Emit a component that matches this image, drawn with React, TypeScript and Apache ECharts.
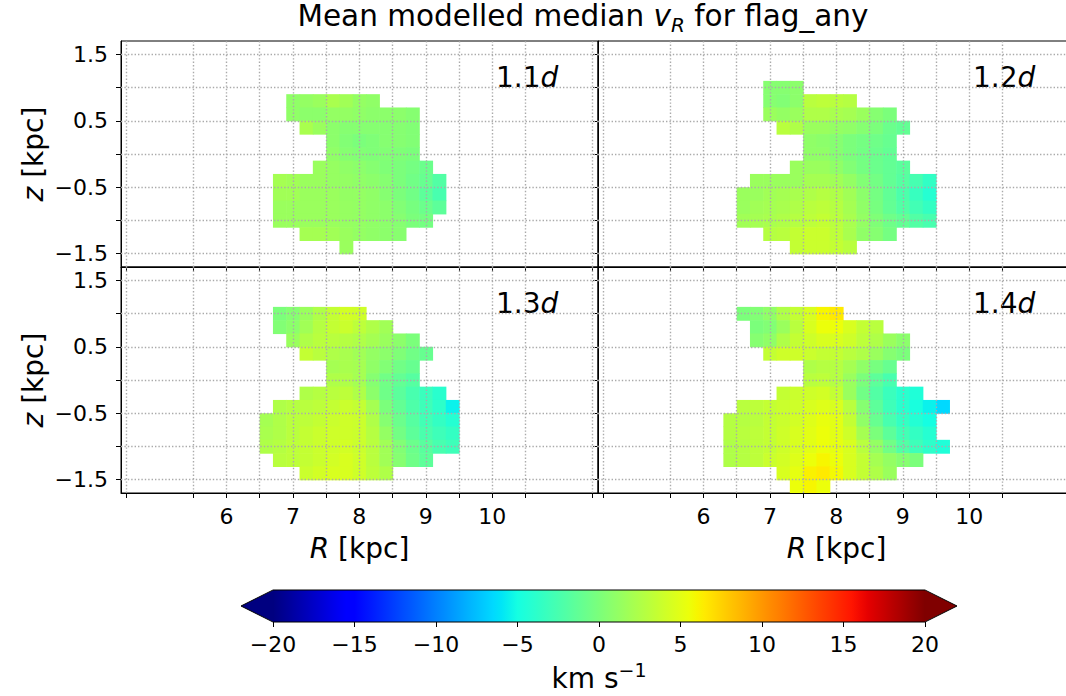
import React, { useEffect, useRef } from 'react';
import * as echarts from 'echarts';

const FONT = 'DejaVu Sans';

// Axis ticks / labels
const xTicks = [4.5, 5.5, 6, 6.5, 7, 7.5, 8, 8.5, 9, 9.5, 10, 10.5, 11.5];
const xLabels = [6, 7, 8, 9, 10];
const yTicks = [-1.5, -1, -0.5, 0, 0.5, 1, 1.5];
const yLabels = [-1.5, -0.5, 0.5, 1.5];
const cbMin = -20;
const cbMax = 20;
const cbStep = 5;

const panelNames = ['1.1', '1.2', '1.3', '1.4'];

// Each row: [z centre, first R centre, values of consecutive 0.2 kpc bins]
type Row = [number, number, number[]];

const rows11: Row[] = [
  [0.8, 7.0, [1.0, 1.2, 1.5, 2.2, 1.8, 1.2, 1.0]],
  [0.6, 7.0, [1.0, 0.8, 0.8, 1.2, 1.2, 1.0, 0.8, 0.8, 0.8, 0.5]],
  [0.4, 7.2, [2.2, 1.5, 0.8, 0.5, 0.5, 0.5, 0.5, 0.5, 0.3]],
  [0.2, 7.6, [0.8, 0.3, 0.0, 0.2, 0.5, 0.5, 0.3]],
  [0.0, 7.6, [1.0, 0.5, 0.3, 0.2, 0.3, 0.2, 0.0]],
  [-0.2, 7.4, [1.5, 1.3, 1.0, 0.8, 0.5, 0.2, 0.0, -0.3, -0.8]],
  [-0.4, 6.8, [2.0, 1.8, 1.5, 1.5, 1.3, 1.2, 1.0, 0.8, 0.5, 0.0, -0.5, -1.0, -2.0]],
  [-0.6, 6.8, [1.8, 1.8, 1.5, 1.5, 1.5, 1.2, 1.2, 1.0, 0.5, 0.0, -0.5, -1.5, -2.5]],
  [-0.8, 6.8, [1.5, 1.5, 1.5, 1.5, 1.5, 1.3, 1.2, 1.0, 0.8, 0.3, -0.2, -0.8, -1.5]],
  [-1.0, 6.8, [1.5, 1.5, 1.5, 1.5, 1.5, 1.3, 1.2, 1.0, 0.8, 0.5, 0.0, -0.3]],
  [-1.2, 7.2, [2.0, 2.0, 1.8, 1.5, 1.2, 1.0, 0.8, 0.6]],
  [-1.4, 7.8, [1.5]],
];

const rows12: Row[] = [
  [1.0, 7.0, [0.5, 0.5, 0.8]],
  [0.8, 7.0, [0.5, 0.3, 0.8, 3.0, 3.2, 3.0, 2.8]],
  [0.6, 7.0, [1.5, 1.2, 1.5, 2.5, 2.5, 2.2, 2.0, 1.5, 0.5, 0.0]],
  [0.4, 7.2, [3.0, 2.5, 1.5, 1.5, 1.2, 1.0, 0.5, 0.0, -0.8, -1.2]],
  [0.2, 7.6, [1.0, 0.8, 0.5, 0.0, -0.3, -0.6, -1.0]],
  [0.0, 7.6, [1.0, 1.0, 0.5, 0.0, -0.4, -0.8, -1.2]],
  [-0.2, 7.4, [1.5, 1.5, 1.5, 1.0, 0.3, -0.3, -0.8, -1.2, -1.6]],
  [-0.4, 6.8, [1.5, 1.5, 1.5, 1.5, 2.0, 2.0, 1.8, 1.2, 0.3, -0.4, -1.2, -1.8, -2.6, -3.6]],
  [-0.6, 6.6, [1.5, 1.5, 1.8, 2.0, 2.2, 2.5, 2.8, 2.5, 1.8, 0.8, -0.3, -1.3, -2.3, -3.3, -4.2]],
  [-0.8, 6.6, [1.5, 1.8, 2.0, 2.2, 2.5, 3.0, 3.2, 2.8, 2.0, 1.0, -0.2, -1.2, -2.0, -2.8, -3.5]],
  [-1.0, 6.6, [1.8, 2.0, 2.2, 2.5, 2.8, 3.2, 3.5, 3.0, 2.2, 1.2, 0.2, -0.6, -1.2, -2.0, -2.5]],
  [-1.2, 7.0, [2.8, 3.0, 3.5, 3.8, 3.8, 3.2, 2.2, 1.0, 0.5, -0.3]],
  [-1.4, 7.4, [3.5, 3.8, 3.8, 3.5, 3.0]],
];

const rows13: Row[] = [
  [1.0, 6.8, [0.0, 0.5, 1.5, 2.5, 3.5, 4.2, 4.0]],
  [0.8, 6.8, [0.3, 0.8, 1.8, 2.8, 3.5, 3.8, 3.2, 2.5, 1.8]],
  [0.6, 7.0, [1.5, 2.5, 3.0, 3.0, 2.8, 2.5, 2.0, 1.5, 0.8, 0.0]],
  [0.4, 7.2, [3.5, 3.0, 2.5, 2.2, 1.8, 1.2, 0.8, 0.2, -0.5, -1.0]],
  [0.2, 7.6, [2.0, 2.2, 2.0, 1.0, 0.3, -0.5, -1.0]],
  [0.0, 7.6, [2.5, 2.5, 2.0, 0.5, -0.5, -1.2, -1.8]],
  [-0.2, 7.2, [2.5, 2.8, 3.0, 3.2, 2.5, 0.8, -0.6, -1.6, -2.5, -3.2, -4.0]],
  [-0.4, 6.8, [2.5, 2.8, 3.0, 3.2, 3.5, 3.8, 3.5, 2.0, 0.0, -1.2, -2.2, -3.0, -3.8, -5.5]],
  [-0.6, 6.6, [2.0, 2.5, 3.0, 3.2, 3.5, 3.8, 4.0, 3.8, 2.5, 0.5, -0.8, -1.8, -2.8, -3.5, -4.2]],
  [-0.8, 6.6, [2.2, 2.5, 3.0, 3.5, 3.8, 4.0, 4.0, 3.8, 2.8, 1.2, -0.4, -1.5, -2.4, -3.0, -3.5]],
  [-1.0, 6.6, [2.5, 2.8, 3.2, 3.5, 3.8, 4.0, 4.2, 3.8, 3.0, 1.8, 0.3, -0.8, -1.7, -2.5, -3.0]],
  [-1.2, 6.8, [3.0, 3.2, 3.5, 3.8, 4.2, 4.5, 4.0, 3.0, 1.8, 0.5, -0.6, -1.5]],
  [-1.4, 7.2, [3.8, 4.2, 4.5, 4.5, 4.0, 3.2, 2.5]],
];

const rows14: Row[] = [
  [1.0, 6.6, [0.0, 0.3, 1.0, 2.5, 3.5, 4.5, 6.0, 6.5]],
  [0.8, 6.8, [0.0, 0.3, 1.5, 3.0, 4.5, 5.5, 5.5, 4.5, 3.5, 3.0]],
  [0.6, 6.8, [0.5, 1.0, 2.5, 3.5, 4.0, 4.5, 4.5, 4.0, 3.2, 2.5, 1.5, 0.8]],
  [0.4, 7.0, [3.5, 4.0, 4.0, 3.8, 3.5, 3.5, 3.0, 2.5, 1.5, 0.5, 0.0]],
  [0.2, 7.6, [2.5, 2.8, 2.8, 2.0, 1.0, -0.2, -1.0]],
  [0.0, 7.6, [3.0, 3.2, 2.8, 1.5, 0.0, -1.5, -2.5]],
  [-0.2, 7.2, [3.5, 3.8, 4.0, 4.2, 3.5, 1.5, -0.5, -2.0, -3.2, -4.0, -4.5]],
  [-0.4, 6.6, [3.0, 3.2, 3.5, 3.8, 4.0, 4.5, 4.8, 4.5, 3.0, 0.5, -1.5, -3.0, -4.0, -4.8, -5.5, -6.5]],
  [-0.6, 6.4, [2.8, 2.8, 3.0, 3.5, 3.8, 4.2, 4.8, 5.3, 5.0, 3.5, 1.0, -1.0, -2.5, -3.5, -4.3, -5.0]],
  [-0.8, 6.4, [2.8, 3.0, 3.2, 3.5, 4.0, 4.5, 5.0, 5.5, 5.0, 4.0, 2.0, 0.0, -1.5, -2.8, -3.5, -4.2]],
  [-1.0, 6.4, [2.5, 2.8, 3.2, 3.5, 4.0, 4.5, 5.0, 5.5, 5.2, 4.5, 3.0, 1.2, -0.5, -2.0, -3.0, -3.8, -4.5]],
  [-1.2, 6.4, [2.5, 2.8, 3.2, 3.8, 4.2, 4.8, 5.5, 6.0, 5.5, 4.5, 3.5, 2.0, 1.2, 0.5, 0.0]],
  [-1.4, 7.2, [4.5, 5.2, 6.2, 6.5, 5.8, 4.5, 3.5, 2.5, 1.5]],
  [-1.6, 7.4, [5.5, 6.0, 5.5]],
];

const panels: Row[][] = [rows11, rows12, rows13, rows14];

// layout constants
const CELL = 0.2;
const X_MIN = 4.414;
const X_MAX = 11.59;
const Y_MIN = -1.7;
const Y_MAX = 1.7;
const GRID_W = 477;
const GRID_H = 226;
const CANVAS_W = 1100;
const gridPos = [
  { left: 121, top: 41 },
  { left: 598, top: 41 },
  { left: 121, top: 267 },
  { left: 598, top: 267 },
];
const CB = { left: 273, right: 925, top: 590, bottom: 622, tip: 32 };
const TICK_FS = 22;

// matplotlib "jet" colormap
const jetR: [number, number][] = [[0, 0], [0.35, 0], [0.66, 1], [0.89, 1], [1, 0.5]];
const jetG: [number, number][] = [[0, 0], [0.125, 0], [0.375, 1], [0.64, 1], [0.91, 0], [1, 0]];
const jetB: [number, number][] = [[0, 0.5], [0.11, 1], [0.34, 1], [0.65, 0], [1, 0]];
function seg(pts: [number, number][], t: number) {
  for (let i = 1; i < pts.length; i++) {
    if (t <= pts[i][0]) {
      const [x0, y0] = pts[i - 1];
      const [x1, y1] = pts[i];
      return y0 + ((y1 - y0) * (t - x0)) / (x1 - x0);
    }
  }
  return pts[pts.length - 1][1];
}
function jet(t: number) {
  const h = (v: number) => Math.round(v * 255).toString(16).padStart(2, '0');
  return '#' + h(seg(jetR, t)) + h(seg(jetG, t)) + h(seg(jetB, t));
}
const JET_N = 81;
const jetColors = Array.from({ length: JET_N }, (_, i) => jet(i / (JET_N - 1)));

const minus = (v: number | string) => String(v).replace('-', '\u2212');

function buildData(rows: Row[]) {
  const out: number[][] = [];
  rows.forEach(([z, r0, vals]) => {
    vals.forEach((v, i) => {
      out.push([Math.round((r0 + i * CELL) * 10) / 10, z, v]);
    });
  });
  return out;
}

function buildOption() {
  const grids: any[] = gridPos.map((g) => ({
    left: g.left,
    top: g.top,
    width: GRID_W,
    height: GRID_H,
    show: true,
    borderColor: '#000',
    borderWidth: 1,
    backgroundColor: 'transparent',
  }));
  grids.push({ left: CB.left, top: CB.top, width: CB.right - CB.left, height: CB.bottom - CB.top, show: false });

  const xAxes: any[] = gridPos.map((_, i) => ({
    gridIndex: i,
    type: 'value',
    min: X_MIN,
    max: X_MAX,
    axisLine: { show: true, onZero: false, lineStyle: { color: '#000', width: 1 } },
    axisTick: { show: true, customValues: xTicks, length: 5, inside: false, lineStyle: { color: '#000', width: 1 } },
    axisLabel: {
      show: i >= 2,
      customValues: xLabels,
      margin: 12,
      fontSize: TICK_FS,
      fontFamily: FONT,
      color: '#000',
      formatter: (v: number) => minus(v),
    },
    splitLine: { show: false },
  }));
  xAxes.push({
    gridIndex: 4,
    type: 'value',
    min: cbMin,
    max: cbMax,
    interval: cbStep,
    axisLine: { show: false },
    axisTick: { show: true, length: 5, inside: false, lineStyle: { color: '#000', width: 1 } },
    axisLabel: { margin: 11, fontSize: TICK_FS, fontFamily: FONT, color: '#000', formatter: (v: number) => minus(v) },
    splitLine: { show: false },
  });

  const yAxes: any[] = gridPos.map((_, i) => ({
    gridIndex: i,
    type: 'value',
    min: Y_MIN,
    max: Y_MAX,
    axisLine: { show: true, onZero: false, lineStyle: { color: '#000', width: 1 } },
    axisTick: { show: true, customValues: yTicks, length: 5, inside: false, lineStyle: { color: '#000', width: 1 } },
    axisLabel: {
      show: i % 2 === 0,
      customValues: yLabels,
      margin: 13,
      fontSize: TICK_FS,
      fontFamily: FONT,
      color: '#000',
      formatter: (v: number) => minus(v),
    },
    splitLine: { show: false },
  }));
  yAxes.push({ gridIndex: 4, type: 'value', min: 0, max: 1, show: false });

  const cellSeries = panels.map((rows, i) => ({
    type: 'custom',
    xAxisIndex: i,
    yAxisIndex: i,
    clip: true,
    z: 2,
    dimensions: ['R', 'z', 'v'],
    encode: { x: 0, y: 1 },
    data: buildData(rows),
    renderItem: (params: any, api: any) => {
      const R = api.value(0);
      const z = api.value(1);
      const p0 = api.coord([R - CELL / 2, z + CELL / 2]);
      const p1 = api.coord([R + CELL / 2, z - CELL / 2]);
      return {
        type: 'rect',
        shape: { x: p0[0], y: p0[1], width: p1[0] - p0[0] + 0.6, height: p1[1] - p0[1] + 0.6 },
        style: { fill: api.visual('color') },
      };
    },
  }));

  const gridLineSeries = panels.map((_, i) => ({
    type: 'line',
    xAxisIndex: i,
    yAxisIndex: i,
    z: 5,
    data: [],
    silent: true,
    markLine: {
      silent: true,
      symbol: ['none', 'none'],
      label: { show: false },
      lineStyle: { color: '#aaaaaa', width: 1.4, type: [1.4, 2.0] },
      data: [...xTicks.map((v) => ({ xAxis: v })), ...yTicks.map((v) => ({ yAxis: v }))],
    },
  }));

  const mkRich = (fs: number, sfs: number, lh: number) => ({
    a: { fontSize: fs, fontFamily: FONT, color: '#000', lineHeight: lh, verticalAlign: 'middle' },
    i: { fontSize: fs, fontFamily: FONT, fontStyle: 'italic', color: '#000', lineHeight: lh, verticalAlign: 'middle' },
    sub: { fontSize: sfs, fontFamily: FONT, fontStyle: 'italic', color: '#000', lineHeight: lh, verticalAlign: 'bottom' },
    sup: { fontSize: sfs, fontFamily: FONT, color: '#000', lineHeight: lh, verticalAlign: 'top' },
  });
  const rich = mkRich(28, 19, 36);
  const titleRich = mkRich(29.5, 20, 38);

  const txt = (x: number, y: number, text: string, extra: any = {}, r: any = rich) => ({
    type: 'text',
    x,
    y,
    silent: true,
    ...extra,
    style: {
      text,
      rich: r,
      fill: '#000',
      font: `28px "${FONT}"`,
      align: extra.align || 'center',
      textAlign: extra.align || 'center',
      verticalAlign: 'middle',
      textVerticalAlign: 'middle',
    },
  });

  const graphic: any[] = [];
  graphic.push(txt(583, 16, '{a|Mean modelled median }{i|v}{sub|R}{a| for flag_any}', {}, titleRich));
  const labelPos = [
    [496, 77],
    [973, 77],
    [496, 303],
    [973, 303],
  ];
  panelNames.forEach((n, i) => {
    graphic.push(txt(labelPos[i][0], labelPos[i][1], `{a|${n}}{i|d}`, { align: 'left' }));
  });
  [154, 380].forEach((cy) => {
    graphic.push(txt(33, cy, '{i|z}{a| [kpc]}', { rotation: Math.PI / 2 }));
  });
  [121 + GRID_W / 2, 598 + GRID_W / 2].forEach((cx) => {
    graphic.push(txt(cx, 548, '{i|R}{a| [kpc]}'));
  });

  // colorbar
  const midY = (CB.top + CB.bottom) / 2;
  graphic.push({
    type: 'rect',
    silent: true,
    shape: { x: CB.left, y: CB.top, width: CB.right - CB.left, height: CB.bottom - CB.top },
    style: {
      fill: {
        type: 'linear',
        x: 0,
        y: 0,
        x2: 1,
        y2: 0,
        colorStops: jetColors.map((c, i) => ({ offset: i / (JET_N - 1), color: c })),
      },
    },
  });
  graphic.push({
    type: 'polygon',
    silent: true,
    shape: { points: [[CB.left - CB.tip, midY], [CB.left + 0.5, CB.top], [CB.left + 0.5, CB.bottom]] },
    style: { fill: jetColors[0] },
  });
  graphic.push({
    type: 'polygon',
    silent: true,
    shape: { points: [[CB.right + CB.tip, midY], [CB.right - 0.5, CB.top], [CB.right - 0.5, CB.bottom]] },
    style: { fill: jetColors[JET_N - 1] },
  });
  graphic.push({
    type: 'polygon',
    silent: true,
    shape: {
      points: [
        [CB.left - CB.tip, midY],
        [CB.left, CB.top],
        [CB.right, CB.top],
        [CB.right + CB.tip, midY],
        [CB.right, CB.bottom],
        [CB.left, CB.bottom],
      ],
    },
    style: { fill: 'none', stroke: '#000', lineWidth: 1 },
  });
  graphic.push(txt((CB.left + CB.right) / 2, 678, '{a|km s}{sup|\u22121}'));

  return {
    animation: false,
    backgroundColor: '#fff',
    textStyle: { fontFamily: FONT },
    grid: grids,
    xAxis: xAxes,
    yAxis: yAxes,
    visualMap: {
      type: 'continuous',
      show: false,
      min: cbMin,
      max: cbMax,
      dimension: 2,
      seriesIndex: [0, 1, 2, 3],
      inRange: { color: jetColors },
    },
    series: [...cellSeries, ...gridLineSeries],
    graphic,
  };
}

export default function App() {
  const ref = useRef<HTMLDivElement>(null);
  useEffect(() => {
    document.body.style.margin = '0';
    document.body.style.overflow = 'hidden';
    const chart = echarts.init(ref.current!, null, { renderer: 'svg' });
    chart.setOption(buildOption() as any);
    return () => chart.dispose();
  }, []);
  return (
    <div style={{ width: 1066, height: 696, overflow: 'hidden', position: 'relative' }}>
      <div ref={ref} style={{ width: CANVAS_W, height: 696 }} />
    </div>
  );
}
